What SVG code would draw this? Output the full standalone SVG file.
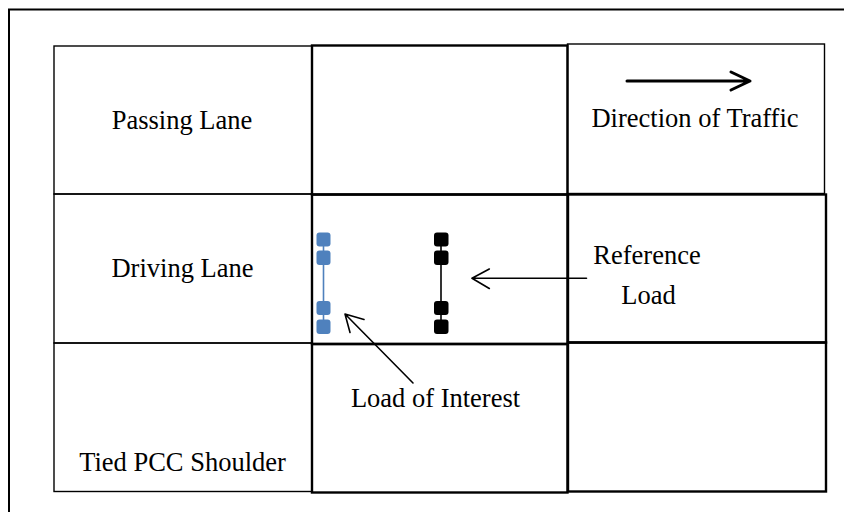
<svg xmlns="http://www.w3.org/2000/svg" width="844" height="512" viewBox="0 0 844 512">
<style>
.t{font-family:"Liberation Serif","Times New Roman",serif;font-size:26.5px;fill:#000;text-anchor:middle}
.thin{fill:none;stroke:#000;stroke-width:1.4}
.thick{fill:none;stroke:#000;stroke-width:2.4}
.blue{fill:#4F81BD}
.blk{fill:#000}
.ar{fill:none;stroke:#000;stroke-width:1.6;stroke-linecap:round;stroke-linejoin:round}
</style>
<rect width="844" height="512" fill="#fff"/>
<path d="M9,520 V9.5 H860" fill="none" stroke="#000" stroke-width="2"/>

<g id="passing-lane"><rect class="thin" x="54" y="46" width="258" height="148"/><text class="t" x="182" y="129">Passing Lane</text></g>
<g id="driving-lane"><rect class="thin" x="54" y="194" width="258" height="149"/><text class="t" x="182.5" y="277">Driving Lane</text></g>
<g id="shoulder"><rect class="thin" x="54" y="343" width="258" height="148.5"/><text class="t" x="182.5" y="471">Tied PCC Shoulder</text></g>

<g id="cell-top-mid"><rect class="thick" x="312" y="45.5" width="255.5" height="149"/></g>
<g id="cell-mid-mid"><rect class="thick" x="312" y="194.5" width="255.5" height="149.5"/></g>
<g id="cell-bot-mid"><rect class="thick" x="312" y="344" width="255.5" height="148.5"/><text class="t" x="435.5" y="407">Load of Interest</text></g>

<g id="traffic"><rect class="thin" x="567.5" y="44" width="257" height="149.5" stroke="#333"/>
<path d="M627,81 H749 M731,72 L750,81 L731,90" fill="none" stroke="#000" stroke-width="3" stroke-linecap="round" stroke-linejoin="round"/>
<text class="t" x="695" y="127">Direction of Traffic</text></g>
<g id="reference"><rect class="thick" x="568" y="194.5" width="258" height="148"/><text class="t" x="647" y="264">Reference</text><text class="t" x="648.5" y="304">Load</text></g>
<g id="cell-bot-right"><rect class="thick" x="568" y="342.5" width="258" height="149"/></g>

<g id="load-of-interest">
<line x1="323.5" y1="240" x2="323.5" y2="327" stroke="#4F81BD" stroke-width="1.6"/>
<rect class="blue" x="316.5" y="232.5" width="14" height="14" rx="3"/>
<rect class="blue" x="316.5" y="250.5" width="14" height="14.5" rx="3"/>
<rect class="blue" x="316.5" y="301" width="14" height="14" rx="3"/>
<rect class="blue" x="316.5" y="319.5" width="14" height="14.5" rx="3"/>
</g>
<g id="reference-load">
<line x1="441" y1="240" x2="441" y2="327" stroke="#000" stroke-width="1.6"/>
<rect class="blk" x="434" y="232.5" width="14.5" height="14" rx="3"/>
<rect class="blk" x="434" y="250.5" width="14.5" height="14.5" rx="3"/>
<rect class="blk" x="434" y="301" width="14.5" height="14" rx="3"/>
<rect class="blk" x="434" y="319.5" width="14.5" height="14.5" rx="3"/>
</g>

<g id="connectors">
<path class="ar" d="M586.5,278.3 H473 M489.3,269 L472,278.3 L489.3,288.5"/>
<path class="ar" d="M413,383 L346,315 M364,319.5 L345,314 L350,332.5"/>
</g>
</svg>
